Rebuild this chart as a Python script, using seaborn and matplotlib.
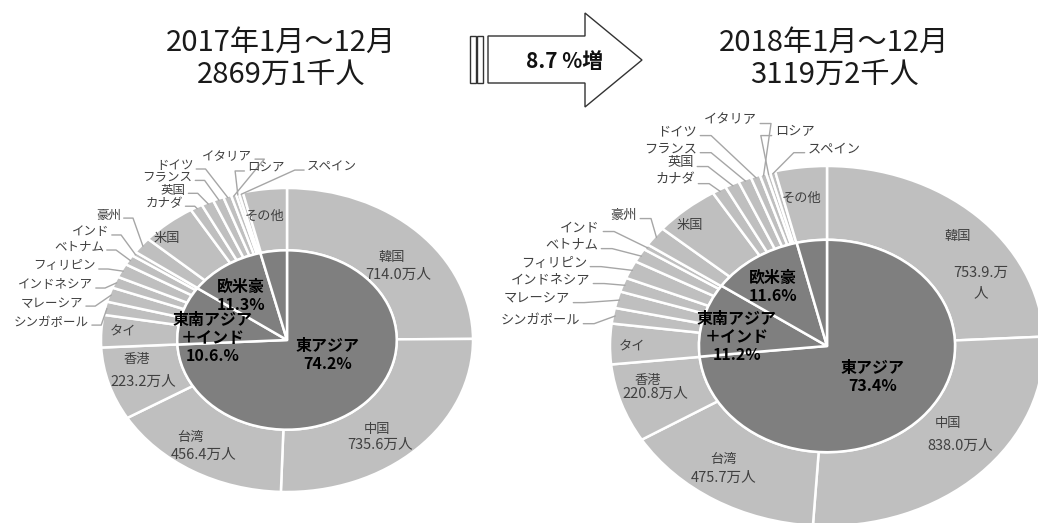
import numpy as np
import matplotlib.pyplot as plt
from matplotlib.patches import Polygon, Rectangle
import seaborn as sns

sns.set_theme(style="white")
plt.rcParams['font.family'] = ['Noto Sans CJK JP', 'DejaVu Sans']

# -------------------------- データ --------------------------
countries = ['韓国', '中国', '台湾', '香港', 'タイ', 'シンガポール', 'マレーシア',
             'インドネシア', 'フィリピン', 'ベトナム', 'インド', '豪州', '米国',
             'カナダ', '英国', 'フランス', 'ドイツ', 'イタリア', 'ロシア', 'スペイン', 'その他']
# 万人
visitors_2017 = [714.0, 735.6, 456.4, 223.2, 98.7, 40.4, 44.0, 35.2, 42.4, 30.9, 13.4,
                 49.5, 137.5, 30.6, 31.0, 26.9, 19.6, 12.6, 7.7, 10.0, 109.5]
visitors_2018 = [753.9, 838.0, 475.7, 220.8, 113.2, 43.7, 46.8, 39.7, 50.4, 38.9, 15.4,
                 55.2, 152.6, 33.1, 33.4, 30.5, 21.5, 15.0, 9.5, 12.0, 119.9]

regions = ['東アジア', '東南アジア\n＋インド', '欧米豪', 'その他']
region_share_2017 = [74.2, 10.6, 11.3, 3.9]
region_share_2018 = [73.4, 11.2, 11.6, 3.8]
region_text_2017 = ['74.2%', '10.6.%', '11.3%', '']
region_text_2018 = ['73.4%', '11.2%', '11.6%', '']

value_text_2017 = {'韓国': '714.0万人', '中国': '735.6万人', '台湾': '456.4万人', '香港': '223.2万人'}
value_text_2018 = {'韓国': '753.9.万\n人', '中国': '838.0万人', '台湾': '475.7万人', '香港': '220.8万人'}

titles = ['2017年1月～12月\n2869万1千人', '2018年1月～12月\n3119万2千人']
growth_text = '8.7 %増'

# -------------------------- レイアウト --------------------------
W, H = 1038, 523
OUTER = '#bfbfbf'
INNER = '#7f7f7f'
LINE = '#a6a6a6'
TXT = '#404040'

# 楕円の中心と半径 (px)
geom = [dict(cx=287, cy=340, rx=186, ry=152),
        dict(cx=827, cy=346, rx=217, ry=180)]

name_pos = [
    {'韓国': (0.565, 0.546), '中国': (0.484, -0.586), '台湾': (-0.52, -0.64),
     '香港': (-0.806, -0.13), 'タイ': (-0.88, 0.05), '米国': (-0.645, 0.67),
     'その他': (-0.118, 0.816)},
    {'韓国': (0.604, 0.606), '中国': (0.558, -0.433), '台湾': (-0.479, -0.633),
     '香港': (-0.825, -0.189), 'タイ': (-0.899, -0.005), '米国': (-0.631, 0.667),
     'その他': (-0.115, 0.822)},
]
value_pos = [
    {'韓国': (0.597, 0.428), '中国': (0.5, -0.69), '台湾': (-0.45, -0.757), '香港': (-0.774, -0.276)},
    {'韓国': (0.71, 0.35), '中国': (0.613, -0.556), '台湾': (-0.475, -0.733), '香港': (-0.793, -0.267)},
]
# 外側ラベル (x はテキスト右端、ロシア/スペインは左端)
out_pos = [
    {'シンガポール': (-1.064, 0.118), 'マレーシア': (-1.096, 0.243), 'インドネシア': (-1.043, 0.362),
     'フィリピン': (-1.027, 0.487), 'ベトナム': (-0.984, 0.612), 'インド': (-0.957, 0.711),
     '豪州': (-0.893, 0.822), 'カナダ': (-0.561, 0.900), '英国': (-0.545, 0.985),
     'フランス': (-0.508, 1.070), 'ドイツ': (-0.503, 1.145), 'イタリア': (-0.187, 1.210),
     'ロシア': (-0.214, 1.132), 'スペイン': (0.107, 1.138)},
    {'シンガポール': (-1.138, 0.144), 'マレーシア': (-1.184, 0.261), 'インドネシア': (-1.092, 0.367),
     'フィリピン': (-1.106, 0.461), 'ベトナム': (-1.055, 0.561), 'インド': (-1.046, 0.656),
     '豪州': (-0.876, 0.728), 'カナダ': (-0.608, 0.922), '英国': (-0.613, 1.017),
     'フランス': (-0.599, 1.094), 'ドイツ': (-0.599, 1.189), 'イタリア': (-0.323, 1.256),
     'ロシア': (-0.240, 1.189), 'スペイン': (-0.088, 1.094)},
]
left_aligned = ['ロシア', 'スペイン']
region_pos = [
    [(0.22, -0.099), (-0.398, 0.013), (-0.247, 0.29)],
    [(0.212, -0.172), (-0.415, 0.05), (-0.249, 0.328)],
]

fig = plt.figure(figsize=(W / 100, H / 100), dpi=100)
fig.patch.set_facecolor('white')

# 背景用の軸 (タイトル・矢印)
bg = fig.add_axes([0, 0, 1, 1])
bg.set_xlim(0, W)
bg.set_ylim(H, 0)
bg.axis('off')

for t, x in zip(titles, [281, 834]):
    bg.text(x, 59, t, ha='center', va='center', fontsize=21, color='#1a1a1a', linespacing=1.1)

arrow = Polygon([(488, 36), (585, 36), (585, 13), (642, 60), (585, 107), (585, 83), (488, 83)],
                closed=True, facecolor='white', edgecolor='#333333', lw=1)
bg.add_patch(arrow)
for bx in [470, 477]:
    bg.add_patch(Rectangle((bx, 36), 6, 47, facecolor='white', edgecolor='#333333', lw=1))
bg.text(565, 61, growth_text, ha='center', va='center', fontsize=15, fontweight='bold', color='#111111')

data = [(visitors_2017, region_share_2017, region_text_2017, value_text_2017),
        (visitors_2018, region_share_2018, region_text_2018, value_text_2018)]

for k, (vals, shares, rtext, vtext) in enumerate(data):
    g = geom[k]
    ax = fig.add_axes([(g['cx'] - g['rx']) / W, (H - g['cy'] - g['ry']) / H,
                       2 * g['rx'] / W, 2 * g['ry'] / H])
    ax.pie(vals, radius=1.0, startangle=90, counterclock=False,
           colors=[OUTER] * len(vals),
           wedgeprops=dict(width=0.41, edgecolor='white', linewidth=1.8))
    ax.pie(shares, radius=0.59, startangle=90, counterclock=False,
           colors=[INNER] * len(shares),
           wedgeprops=dict(edgecolor='white', linewidth=1.8))
    ax.set_aspect('auto')
    ax.set_xlim(-1, 1)
    ax.set_ylim(-1, 1)
    ax.axis('off')

    frac = np.array(vals) / np.sum(vals)
    mid = np.deg2rad(90 - 360 * (np.cumsum(frac) - frac / 2))

    # リング内のラベル
    for name, (x, y) in name_pos[k].items():
        ax.text(x, y, name, ha='center', va='center', fontsize=9.5, color=TXT)
    for name, (x, y) in value_pos[k].items():
        ax.text(x, y, vtext[name], ha='center', va='center', fontsize=10.5, color=TXT,
                linespacing=1.6)

    # 外側ラベルと引き出し線
    fs_out = 9 if k == 0 else 9.5
    for name, (x, y) in out_pos[k].items():
        i = countries.index(name)
        axx, axy = np.cos(mid[i]) * 0.99, np.sin(mid[i]) * 0.99
        if name in left_aligned:
            ax.text(x, y, name, ha='left', va='center', fontsize=fs_out, color=TXT)
            sx = x - 0.015
            ax.plot([sx, sx - 0.05, axx], [y - 0.02, y - 0.02, axy], color=LINE, lw=1, clip_on=False)
        else:
            ax.text(x, y, name, ha='right', va='center', fontsize=fs_out, color=TXT)
            sx = x + 0.015
            ax.plot([sx, sx + 0.05, axx], [y - 0.02, y - 0.02, axy], color=LINE, lw=1, clip_on=False)

    # 内側 (地域) のラベル
    for j in range(3):
        x, y = region_pos[k][j]
        ax.text(x, y, regions[j] + '\n' + rtext[j], ha='center', va='center', fontsize=11.5,
                fontweight='bold', color='black', linespacing=1.15, multialignment='center')

fig.savefig('out.png', dpi=100)
